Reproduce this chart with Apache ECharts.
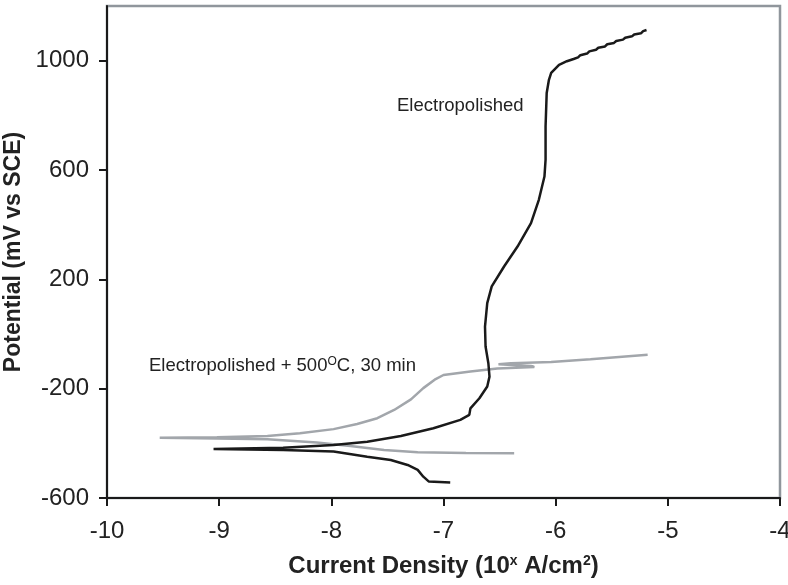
<!DOCTYPE html>
<html>
<head>
<meta charset="utf-8">
<title>Potentiodynamic polarization</title>
<script src="https://cdn.jsdelivr.net/npm/echarts@6/dist/echarts.min.js"></script>
<style>
  html, body { margin: 0; padding: 0; background: #fff; }
  #chart { width: 788px; height: 585px; }
</style>
</head>
<body>
<div id="chart"></div>
<script>
  // tick values
  const xTicks = [-10, -9, -8, -7, -6, -5, -4]
  const yTicks = [-600, -200, 200, 600, 1000]

  // Electropolished: log current density vs potential (mV vs SCE)
  const epCurrent = [-6.94, -7.13, -7.18, -7.23, -7.32, -7.47, -7.68, -7.98, -8.43, -9.05,
    -8.43, -7.98, -7.68, -7.38, -7.09, -6.85, -6.77, -6.76, -6.68, -6.61, -6.59, -6.60,
    -6.625, -6.63, -6.61, -6.57, -6.46, -6.34, -6.22, -6.15, -6.10, -6.09, -6.09, -6.08,
    -6.06, -6.04, -5.97, -5.90, -5.84, -5.80, -5.78, -5.72, -5.70, -5.64, -5.62, -5.56,
    -5.54, -5.48, -5.46, -5.40, -5.38, -5.32, -5.30, -5.24, -5.22, -5.19]
  const epPotential = [-543, -540, -522, -497, -479, -461, -449, -430, -424, -421,
    -416, -406, -394, -373, -345, -314, -296, -272, -235, -192, -156, -107,
    -46, 27, 113, 174, 247, 320, 406, 491, 576, 638, 760, 882,
    930, 955, 985, 998, 1006, 1012, 1020, 1026, 1034, 1040, 1047, 1052,
    1060, 1065, 1072, 1077, 1084, 1089, 1096, 1100, 1108, 1112]

  // Electropolished + 500 C, 30 min
  const htCurrent = [-6.37, -6.80, -7.23, -7.53, -7.83, -8.13, -8.57, -9.02, -9.53,
    -9.02, -8.57, -8.28, -7.98, -7.77, -7.59, -7.44, -7.29, -7.18, -7.07, -7.00,
    -6.76, -6.52, -6.19, -6.22, -6.51, -6.40, -6.04, -5.69, -5.18]
  const htPotential = [-436, -435, -433, -424, -410, -397, -385, -382, -380,
    -378, -373, -363, -348, -329, -308, -278, -239, -198, -165, -150,
    -137, -126, -121, -117, -111, -107, -102, -92, -76]

  const zip = (xs, ys) => xs.map((x, i) => [x, ys[i]])

  let myChart = echarts.init(document.getElementById('chart'))
  const font = 'Liberation Sans, Arial, Helvetica, sans-serif'

  myChart.setOption({
    animation: false,
    grid: {
      left: 107,
      right: 8,
      top: 6,
      bottom: 87,
      outerBoundsMode: 'none',
      containLabel: false,
      show: true,
      borderColor: '#90969c',
      borderWidth: 2.5
    },
    xAxis: {
      type: 'value',
      min: -10,
      max: -4,
      interval: 1,
      name: 'Current Density (10{sup|x} A/cm{sup|2})',
      nameLocation: 'middle',
      nameGap: 56,
      nameTextStyle: {
        color: '#222',
        fontSize: 24,
        fontWeight: 'bold',
        fontFamily: font,
        rich: {
          sup: { fontSize: 14, fontWeight: 'bold', verticalAlign: 'top', fontFamily: font, color: '#222' }
        }
      },
      axisLine: { onZero: false, lineStyle: { color: '#1a1a1a', width: 2 } },
      axisTick: { length: 8, lineStyle: { color: '#1a1a1a', width: 2 }, customValues: xTicks },
      axisLabel: { color: '#222', fontSize: 24, fontFamily: font, margin: 21, customValues: xTicks },
      splitLine: { show: false }
    },
    yAxis: {
      type: 'value',
      min: -600,
      max: 1200,
      interval: 400,
      name: 'Potential (mV vs SCE)',
      nameLocation: 'middle',
      nameGap: 79,
      nameTextStyle: { color: '#222', fontSize: 23, fontWeight: 'bold', fontFamily: font },
      axisLine: { onZero: false, lineStyle: { color: '#1a1a1a', width: 2 } },
      axisTick: { length: 8, lineStyle: { color: '#1a1a1a', width: 2 }, customValues: yTicks },
      axisLabel: {
        color: '#222',
        fontSize: 24,
        fontFamily: font,
        margin: 18,
        customValues: yTicks,
        formatter: (v) => String(v)
      },
      splitLine: { show: false }
    },
    graphic: [
      {
        type: 'text',
        left: 397,
        top: 96,
        style: { text: 'Electropolished', fill: '#222', fontSize: 18.5, fontFamily: font }
      },
      {
        type: 'text',
        left: 149,
        top: 356,
        style: {
          text: 'Electropolished + 500{sup|O}C, 30 min',
          fill: '#222',
          fontSize: 18.5,
          fontFamily: font,
          rich: {
            sup: { fontSize: 12, verticalAlign: 'top', fill: '#222', fontFamily: font }
          }
        }
      }
    ],
    series: [
      {
        name: 'Electropolished + 500C, 30 min',
        type: 'line',
        data: zip(htCurrent, htPotential),
        showSymbol: false,
        lineStyle: { color: '#a2a6ab', width: 2.5 },
        z: 2
      },
      {
        name: 'Electropolished',
        type: 'line',
        data: zip(epCurrent, epPotential),
        showSymbol: false,
        lineStyle: { color: '#1a1a1a', width: 2.5 },
        z: 3
      }
    ]
  })
</script>
</body>
</html>
